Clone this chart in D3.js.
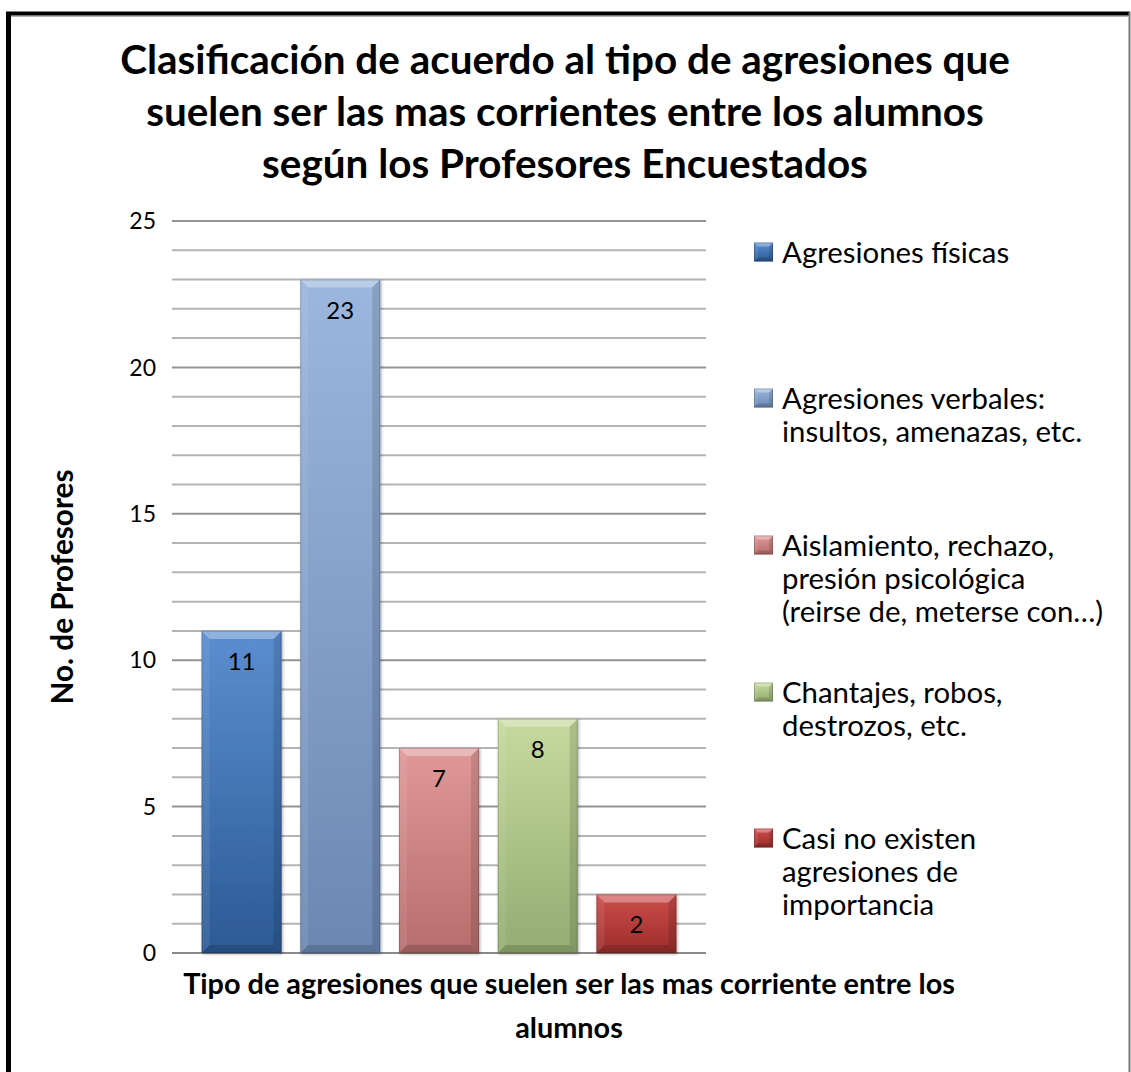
<!DOCTYPE html>
<html><head><meta charset="utf-8">
<script src="https://cdn.jsdelivr.net/npm/d3@7"></script>
<style>body{margin:0;background:#fff}svg{display:block}</style>
</head><body>
<script>
const categories = ["Agresiones físicas","Agresiones verbales: insultos, amenazas, etc.","Aislamiento, rechazo, presión psicológica (reirse de, meterse con…)","Chantajes, robos, destrozos, etc.","Casi no existen agresiones de importancia"];
const values = [11, 23, 7, 8, 2];
const legendLines = [["Agresiones físicas"],["Agresiones verbales:","insultos, amenazas, etc."],["Aislamiento, rechazo,","presión psicológica","(reirse de, meterse con…)"],["Chantajes, robos,","destrozos, etc."],["Casi no existen","agresiones de","importancia"]];
const colors = [["#5b8ed0","#2c5a95"],["#9bb7dd","#6b88b2"],["#e09998","#b66d6c"],["#c6da9e","#94ad72"],["#cc4d4a","#9c2d2b"]];
const titleLines = ["Clasificación de acuerdo al tipo de agresiones que","suelen ser las mas corrientes entre los alumnos","según los Profesores Encuestados"];
const xTitleLines = ["Tipo de agresiones que suelen ser las mas corriente entre los","alumnos"];
const yTitle = "No. de Profesores";
const yTicks = [0,5,10,15,20,25];

const W=1131,H=1072;
const font = "Lato, 'Open Sans', sans-serif";
const svg = d3.select("body").append("svg").attr("width",W).attr("height",H);
svg.append("rect").attr("width",W).attr("height",H).attr("fill","#fff");
// border
svg.append("line").attr("x1",8.5).attr("x2",8.5).attr("y1",12).attr("y2",H).attr("stroke","#000").attr("stroke-width",5);
svg.append("line").attr("x1",6).attr("x2",1130).attr("y1",13.5).attr("y2",13.5).attr("stroke","#000").attr("stroke-width",4);
svg.append("line").attr("x1",11).attr("x2",1128).attr("y1",16).attr("y2",16).attr("stroke","#666").attr("stroke-width",1);
svg.append("line").attr("x1",1129.5).attr("x2",1129.5).attr("y1",12).attr("y2",H).attr("stroke","#777").attr("stroke-width",2);

// fit a group of texts so that the reference line (index ri) has width target
function fit(sel, ri, target){
  const node = sel.nodes()[ri];
  const fs = parseFloat(node.getAttribute("font-size"));
  const len = node.getComputedTextLength();
  const nfs = fs*target/len;
  sel.attr("font-size", nfs);
}

const plot = {l:172, r:706, t:221, b:953};
const y = d3.scaleLinear().domain([0,25]).range([plot.b, plot.t]);
const x = d3.scaleBand().domain(categories).range([plot.l, plot.r]).paddingInner(0.19).paddingOuter(0.3);

// gridlines
const g = svg.append("g");
g.selectAll("line.minor").data(d3.range(1,26).filter(v=>v%5!==0)).join("line")
  .attr("x1",plot.l).attr("x2",plot.r).attr("y1",d=>y(d)).attr("y2",d=>y(d))
  .attr("stroke","#b4b4b4").attr("stroke-width",2);
g.selectAll("line.major").data(yTicks).join("line")
  .attr("x1",plot.l).attr("x2",plot.r).attr("y1",d=>y(d)).attr("y2",d=>y(d))
  .attr("stroke",d=>d===0?"#8a8a8a":"#949494").attr("stroke-width",2);

// y tick labels
svg.append("g").selectAll("text").data(yTicks).join("text")
  .attr("x",156).attr("y",d=>y(d)).attr("dy","0.36em").attr("text-anchor","end")
  .attr("font-family",font).attr("font-size",23).attr("fill","#000").text(d=>d);

// gradients
const defs = svg.append("defs");
colors.forEach((c,i)=>{
  const lg = defs.append("linearGradient").attr("id","g"+i).attr("x1",0).attr("x2",0).attr("y1",0).attr("y2",1);
  lg.append("stop").attr("offset","0%").attr("stop-color",c[0]);
  lg.append("stop").attr("offset","100%").attr("stop-color",c[1]);
});
const filt = defs.append("filter").attr("id","sh").attr("x","-20%").attr("y","-20%").attr("width","140%").attr("height","140%");
filt.append("feDropShadow").attr("dx",1).attr("dy",1).attr("stdDeviation",1.5).attr("flood-color","#000").attr("flood-opacity",0.35);

function bevel(sel, x0, y0, w, h, b){
  sel.append("path").attr("d",`M${x0},${y0}L${x0+w},${y0}L${x0+w-b},${y0+b}L${x0+b},${y0+b}Z`).attr("fill","#fff").attr("opacity",0.32);
  sel.append("path").attr("d",`M${x0},${y0}L${x0+b},${y0+b}L${x0+b},${y0+h-b}L${x0},${y0+h}Z`).attr("fill","#fff").attr("opacity",0.08);
  sel.append("path").attr("d",`M${x0+w},${y0}L${x0+w},${y0+h}L${x0+w-b},${y0+h-b}L${x0+w-b},${y0+b}Z`).attr("fill","#000").attr("opacity",0.12);
  sel.append("path").attr("d",`M${x0},${y0+h}L${x0+w},${y0+h}L${x0+w-b},${y0+h-b}L${x0+b},${y0+h-b}Z`).attr("fill","#000").attr("opacity",0.15);
  sel.append("rect").attr("x",x0+0.5).attr("y",y0+0.5).attr("width",w-1).attr("height",h-1).attr("fill","none").attr("stroke","#000").attr("stroke-opacity",0.18);
}

const bars = svg.append("g");
categories.forEach((c,i)=>{
  const bx = x(c), bw = x.bandwidth(), by = y(values[i]), bh = y(0)-y(values[i]);
  const bg = bars.append("g");
  bg.append("rect").attr("x",bx).attr("y",by).attr("width",bw).attr("height",bh).attr("fill",`url(#g${i})`).attr("filter","url(#sh)");
  bevel(bg, bx, by, bw, bh, 8);
  bg.append("text").attr("x",bx+bw/2).attr("y",by+39).attr("text-anchor","middle")
    .attr("font-family",font).attr("font-size",24).attr("fill","#000").text(values[i]);
});

// title
const tt = svg.append("g").selectAll("text").data(titleLines).join("text")
  .attr("x",565).attr("y",(d,i)=>74+i*52).attr("text-anchor","middle")
  .attr("font-family",font).attr("font-weight","bold").attr("font-size",36).attr("fill","#000").text(d=>d);
fit(tt, 0, 890);

// y title
const yt = svg.append("text").attr("transform",`translate(73,${(plot.t+plot.b)/2}) rotate(-90)`).attr("text-anchor","middle")
  .attr("font-family",font).attr("font-weight","bold").attr("font-size",23).attr("fill","#000").text(yTitle);
fit(yt, 0, 235);

// x title
const xt = svg.append("g").selectAll("text").data(xTitleLines).join("text")
  .attr("x",569).attr("y",(d,i)=>994+i*44).attr("text-anchor","middle")
  .attr("font-family",font).attr("font-weight","bold").attr("font-size",23).attr("fill","#000").text(d=>d);
fit(xt, 0, 772);

// legend
const legTop = [252, 398, 545, 692, 838];
const leg = svg.append("g");
const allLegTexts = [];
legendLines.forEach((lines,i)=>{
  const cy = legTop[i];
  const s = 19, lx = 754, ly = cy - s/2;
  const lg = leg.append("g");
  lg.append("rect").attr("x",lx).attr("y",ly).attr("width",s).attr("height",s).attr("fill",`url(#g${i})`);
  bevel(lg, lx, ly, s, s, 4);
  lg.selectAll("text").data(lines).join("text")
    .attr("class","lt")
    .attr("x",782).attr("y",(d,j)=>cy+j*33).attr("dy","0.36em")
    .attr("font-family",font).attr("font-size",24).attr("fill","#000").text(d=>d);
});
fit(leg.selectAll("text.lt"), 1, 263);
</script>
</body></html>
